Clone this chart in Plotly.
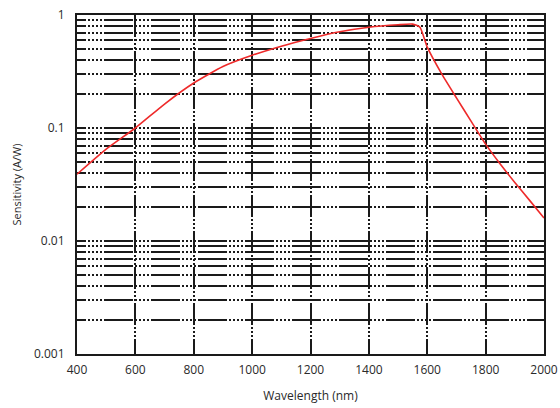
import plotly.graph_objects as go

# Data
wavelength_nm = [400, 500, 600, 700, 800, 900, 1000, 1100, 1200, 1300, 1400, 1500,
                 1550, 1575, 1600, 1650, 1700, 1750, 1800, 1850, 1900, 1950, 2000]
sensitivity_aw = [0.039, 0.065, 0.10, 0.163, 0.25, 0.35, 0.44, 0.53, 0.62, 0.71, 0.78, 0.82,
                  0.83, 0.78, 0.52, 0.30, 0.185, 0.115, 0.072, 0.048, 0.033, 0.023, 0.016]

x_tick_vals = [400, 600, 800, 1000, 1200, 1400, 1600, 1800, 2000]
x_tick_text = ["400", "600", "800", "1000", "1200", "1400", "1600", "1800", "2000"]

y_decades = [0.001, 0.01, 0.1]
y_decade_text = ["0.001", "0.01", "0.1"]

y_tick_vals = []
y_tick_text = []
for d, t in zip(y_decades, y_decade_text):
    for m in range(1, 10):
        y_tick_vals.append(round(d * m, 6))
        y_tick_text.append(t if m == 1 else "")
y_tick_vals.append(1)
y_tick_text.append("1")

fig = go.Figure()
fig.add_trace(go.Scatter(
    x=wavelength_nm, y=sensitivity_aw, mode="lines",
    line=dict(color="#ee2a2a", width=1.6, shape="spline", smoothing=0.5),
    hoverinfo="skip", showlegend=False,
))

font_family = "Open Sans, Liberation Sans, Arial, sans-serif"

fig.update_layout(
    width=560, height=408,
    margin=dict(l=77, r=16, t=15, b=54, autoexpand=False),
    paper_bgcolor="white", plot_bgcolor="white",
    font=dict(family=font_family, color="#2a2a2a", size=12),
    xaxis=dict(
        range=[400, 2000], tickmode="array", tickvals=x_tick_vals, ticktext=x_tick_text,
        showgrid=True, gridcolor="#1a1a1a", gridwidth=2,
        griddash="22px,2px,2px,2px,2px,2px,2px,2px",
        showline=True, linecolor="#1a1a1a", linewidth=2, mirror=True,
        ticks="", zeroline=False, tickfont=dict(size=12), automargin=False,
        ticklabelstandoff=4,
        title=dict(text="Wavelength (nm)", font=dict(size=12), standoff=14),
    ),
    yaxis=dict(
        type="log", range=[-3, 0], tickmode="array", tickvals=y_tick_vals, ticktext=y_tick_text,
        showgrid=True, gridcolor="#1a1a1a", gridwidth=2,
        griddash="9px,2px,2px,2px,2px,2px,2px,2px,2px,2px,20px,0px",
        showline=True, linecolor="#1a1a1a", linewidth=2, mirror=True,
        ticks="", zeroline=False, tickfont=dict(size=12), ticklabelstandoff=8,
        automargin=False,
        title=dict(text="Sensitivity (A/W)", font=dict(size=11), standoff=10),
    ),
)

fig.write_html("out.html", config={"displayModeBar": False},
               post_script="document.body.style.margin='0';")
